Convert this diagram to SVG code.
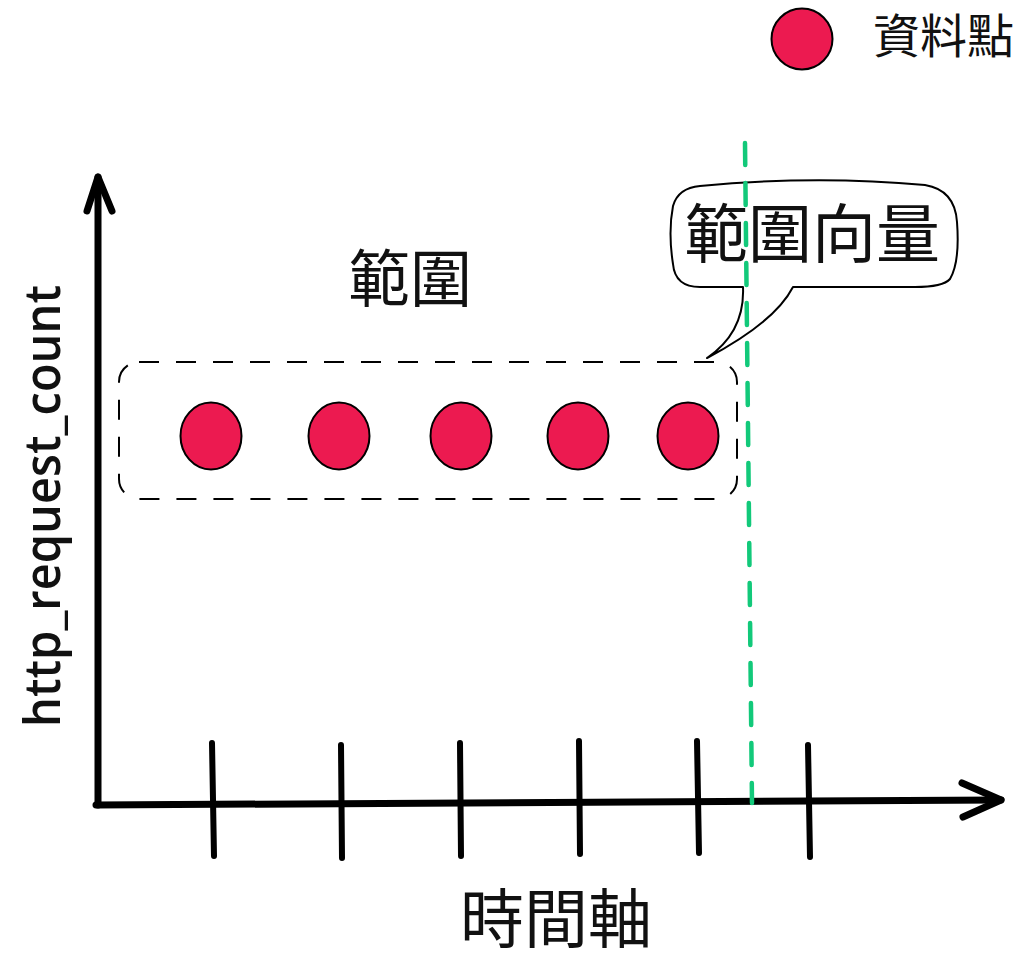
<svg xmlns="http://www.w3.org/2000/svg" width="1016" height="964" viewBox="0 0 1016 964">
<style>
.dot{fill:#ec1a50;stroke:#000;stroke-width:2}
.axis{fill:none;stroke:#000;stroke-width:7;stroke-linecap:round;stroke-linejoin:round}
.tick{fill:none;stroke:#000;stroke-width:6;stroke-linecap:round}
.cjk{font-family:"Noto Sans CJK TC","Noto Sans CJK SC",sans-serif;fill:#111}
</style>
<rect width="1016" height="964" fill="#fff"/>
<g id="range-box">
<rect x="119" y="362" width="618" height="137" rx="20" ry="20" fill="none" stroke="#000" stroke-width="2" stroke-dasharray="20 17"/>
</g>
<g id="points">
<ellipse class="dot" cx="211" cy="436" rx="30.5" ry="33.5"/>
<ellipse class="dot" cx="339" cy="436" rx="30.5" ry="33.5"/>
<ellipse class="dot" cx="461" cy="436" rx="30.5" ry="33.5"/>
<ellipse class="dot" cx="578" cy="436" rx="30.5" ry="33.5"/>
<ellipse class="dot" cx="688" cy="436" rx="30.5" ry="33.5"/>
</g>
<g id="legend">
<ellipse class="dot" cx="802" cy="39" rx="30.5" ry="30.5"/>
<text class="cjk" x="873" y="53" font-size="47">資料點</text>
</g>
<g id="range-label">
<text class="cjk" x="410" y="302" font-size="62" text-anchor="middle">範圍</text>
</g>
<g id="bubble">
<path d="M700,186 Q815,175 925,185 Q955,190 957,222 Q960,262 950,279 Q943,287 915,287 L793,287 Q775,322 707,358 Q745,332 743,287 L700,287 Q675,287 673,264 Q668,232 673,206 Q678,188 700,186 Z" fill="#fff" stroke="#000" stroke-width="2" stroke-linejoin="round"/>
<text class="cjk" x="812" y="257" font-size="64" text-anchor="middle">範圍向量</text>
</g>
<g id="x-label">
<text class="cjk" x="556" y="942" font-size="64" text-anchor="middle">時間軸</text>
</g>
<g id="y-label">
<text x="0" y="0" transform="translate(60,727) rotate(-90)" font-family="'Open Sans','Liberation Sans',sans-serif" font-size="50" font-weight="600" fill="#111" textLength="442" lengthAdjust="spacingAndGlyphs">http_request_count</text>
</g>
<g id="connectors">
<path class="axis" d="M98,805 L98,177"/>
<path class="axis" d="M87,211 L98,177 L112,211"/>
<path class="axis" d="M96,805 Q550,802 1001,800"/>
<path class="axis" d="M962,783 L1001,800 L963,817"/>
<path class="tick" d="M212,743 L214,856"/>
<path class="tick" d="M341,745 L342,858"/>
<path class="tick" d="M460,743 L461,856"/>
<path class="tick" d="M579,741 L580,854"/>
<path class="tick" d="M697,741 L699,853"/>
<path class="tick" d="M808,745 L810,857"/>
<path d="M745,143 L752,803" fill="none" stroke="#12c97a" stroke-width="4.5" stroke-dasharray="22 18" stroke-linecap="round"/>
</g>
</svg>
